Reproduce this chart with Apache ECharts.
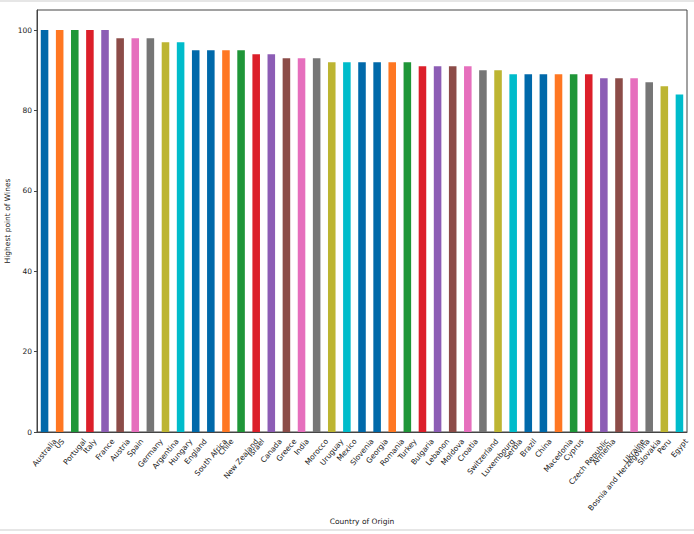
<!DOCTYPE html>
<html>
<head>
<meta charset="utf-8">
<script src="https://cdn.jsdelivr.net/npm/echarts@6/dist/echarts.min.js"></script>
<style>
html,body{margin:0;padding:0;background:#fff;}
#chart{width:694px;height:534px;}
</style>
</head>
<body>
<div id="chart"></div>
<script>
const categories = ["Australia","US","Portugal","Italy","France","Austria","Spain","Germany","Argentina","Hungary","England","South Africa","Chile","New Zealand","Israel","Canada","Greece","India","Morocco","Uruguay","Mexico","Slovenia","Georgia","Romania","Turkey","Bulgaria","Lebanon","Moldova","Croatia","Switzerland","Luxembourg","Serbia","Brazil","China","Macedonia","Cyprus","Czech Republic","Armenia","Bosnia and Herzegovina","Ukraine","Slovakia","Peru","Egypt"];
const values = [100,100,100,100,100,98,98,98,97,97,95,95,95,95,94,94,93,93,93,92,92,92,92,92,92,91,91,91,91,90,90,89,89,89,89,89,89,88,88,88,87,86,84];
const yTicks = [0,20,40,60,80,100];
const palette = ["#0069aa","#ff7722","#1f9638","#dc1f2a","#8c5db5","#8c4c48","#e66fbd","#767676","#bdb532","#00bccb","#0069aa"];

const FONT = '"DejaVu Sans", sans-serif';
const FS = 7.5;
const ROT = 50;
const th = ROT * Math.PI / 180;
const cv = document.createElement('canvas').getContext('2d');
cv.font = FS + 'px ' + FONT;
const rich = {};
categories.forEach((c, i) => {
  const L = cv.measureText(c).width;
  const h = FS * 1.2;
  const H = L * Math.sin(th) + h * Math.cos(th);
  rich['c' + i] = {
    fontFamily: FONT, fontSize: FS, color: '#222',
    padding: [H * Math.cos(th), H * Math.sin(th), 0, 0]
  };
});

const chart = echarts.init(document.getElementById('chart'), null, {renderer: 'svg'});
chart.setOption({
  animation: false,
  backgroundColor: '#fff',
  color: palette,
  grid: {left: 37, right: 7, top: 10, bottom: 102, show: true, borderColor: '#444', borderWidth: 1, backgroundColor: '#fff', containLabel: false, outerBoundsMode: 'none'},
  xAxis: {
    type: 'category',
    data: categories,
    name: 'Country of Origin',
    nameLocation: 'middle',
    nameGap: 89,
    nameMoveOverlap: false,
    nameTextStyle: {fontFamily: FONT, fontSize: FS, color: '#222', verticalAlign: 'middle'},
    axisLine: {lineStyle: {color: '#444', width: 1}},
    axisTick: {alignWithLabel: true, length: 3, lineStyle: {color: '#444'}},
    axisLabel: {
      interval: 0,
      rotate: ROT,
      margin: 5,
      align: 'center',
      verticalAlign: 'middle',
      hideOverlap: false,
      formatter: (v, i) => '{c' + i + '|' + v + '}',
      rich: rich
    },
    splitLine: {show: false}
  },
  yAxis: {
    type: 'value',
    min: 0,
    max: 105,
    name: 'Highest point of Wines',
    nameLocation: 'middle',
    nameGap: 30,
    nameMoveOverlap: false,
    nameTextStyle: {fontFamily: FONT, fontSize: FS, color: '#222', verticalAlign: 'middle'},
    axisLine: {show: true, lineStyle: {color: '#444', width: 1}},
    axisTick: {show: true, length: 3, lineStyle: {color: '#444'}, customValues: yTicks},
    axisLabel: {fontFamily: FONT, fontSize: FS, color: '#222', margin: 5, customValues: yTicks},
    splitLine: {show: false}
  },
  graphic: [
    {type: 'rect', shape: {x: 0, y: 0, width: 694, height: 2}, style: {fill: '#e6e6e6'}, silent: true},
    {type: 'rect', shape: {x: 0, y: 529, width: 694, height: 2}, style: {fill: '#e6e6e6'}, silent: true}
  ],
  series: [{
    type: 'bar',
    data: values,
    colorBy: 'data',
    barWidth: '50%'
  }]
});
</script>
</body>
</html>
